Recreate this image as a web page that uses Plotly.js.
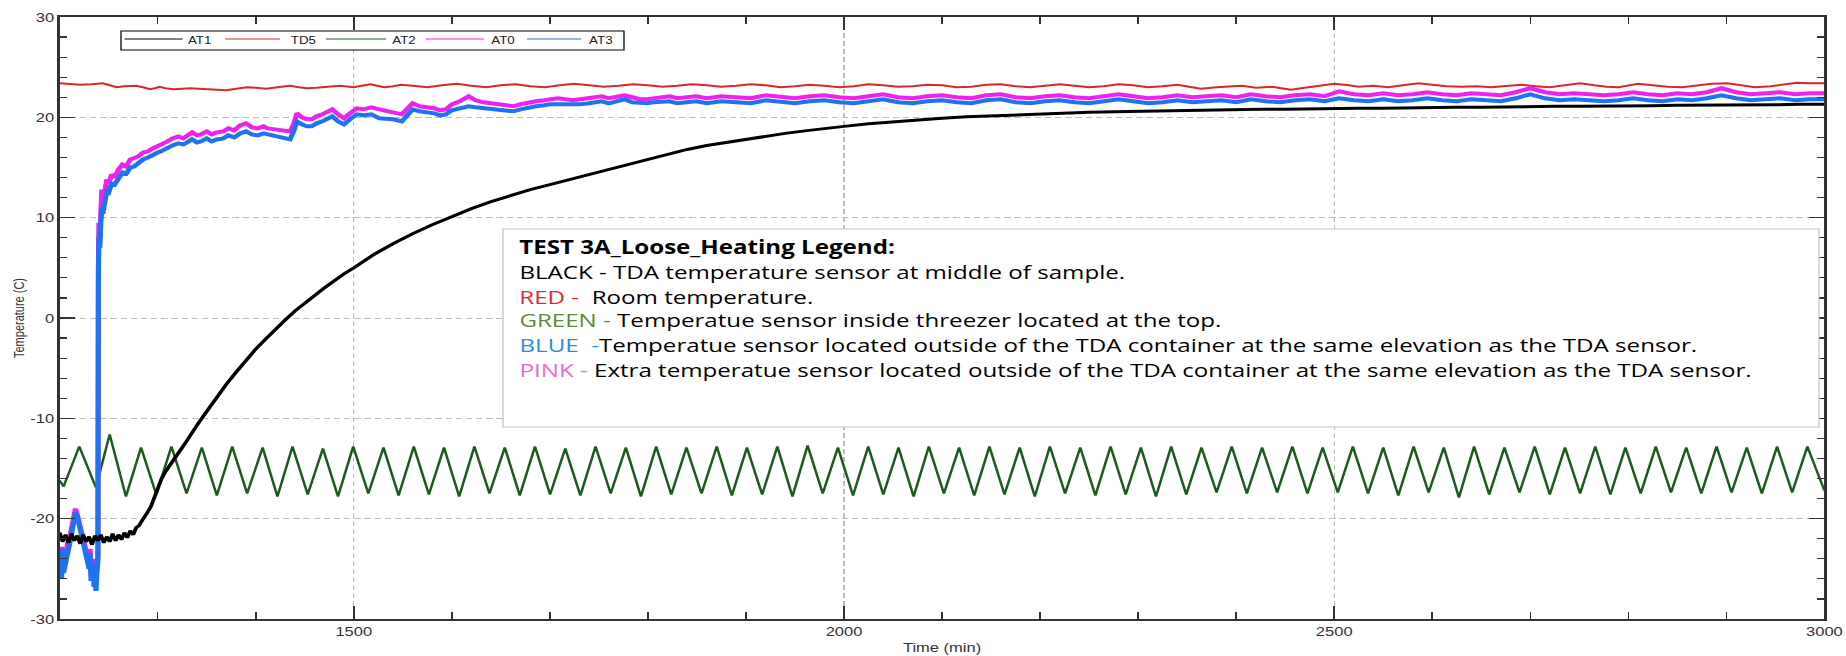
<!DOCTYPE html>
<html>
<head>
<meta charset="utf-8">
<script src="https://cdn.plot.ly/plotly-3.0.1.min.js"></script>
<style>
  html, body { margin: 0; padding: 0; background: #ffffff; }
  #wrap { width: 1846px; height: 656px; overflow: hidden; position: relative; }
  #plot { width: 1454px; height: 656px; transform: scale(1.26960, 1); transform-origin: 0 0; }
</style>
</head>
<body>
<div id="wrap"><div id="plot"></div></div>
<script>
// ---------------- DATA ----------------
const seriesNames = ['AT1', 'TD5', 'AT2', 'AT0', 'AT3'];
const seriesColors = ['#000000', '#d8282a', '#1d5a1d', '#f020f0', '#1f72f2'];

// AT1 (black) - TDA temperature sensor at middle of sample
const timeAT1 = [1200,1203,1206,1209,1212,1215,1218,1221,1224,1227,1230,1233,1236,1239,1242,1245,1248,1251,1254,1257,1260,1263,1266,1269,1272,1275,1278,1281,1284,1287,1290,1293,1296,1300,1304,1308,1312,1316,1320,1325,1330,1335,1340,1345,1350,1355,1360,1370,1380,1390,1400,1410,1420,1430,1440,1450,1460,1470,1480,1490,1500,1520,1540,1560,1580,1600,1620,1640,1660,1680,1700,1720,1740,1760,1780,1800,1820,1840,1860,1880,1900,1920,1940,1960,1980,2000,2025,2050,2075,2100,2125,2150,2175,2200,2225,2250,2275,2300,2325,2350,2375,2400,2425,2450,2475,2500,2525,2550,2575,2600,2625,2650,2675,2700,2725,2750,2775,2800,2825,2850,2875,2900,2925,2950,2975,3000];
const valAT1 = [-21.4,-22.3,-21.6,-22.4,-21.5,-22.2,-21.7,-22.5,-21.6,-22.3,-21.8,-22.6,-21.7,-22.2,-21.6,-22.4,-21.8,-22.3,-21.5,-22.2,-21.6,-22.1,-21.4,-21.9,-21.2,-21.6,-20.9,-20.7,-20.2,-19.8,-19.3,-18.8,-18.0,-17.0,-16.0,-15.3,-14.7,-14.1,-13.6,-12.9,-12.2,-11.4,-10.7,-10.0,-9.3,-8.6,-7.9,-6.6,-5.4,-4.2,-3.1,-2.1,-1.1,-0.2,0.7,1.5,2.3,3.0,3.7,4.4,5.0,6.3,7.4,8.4,9.3,10.1,10.9,11.6,12.2,12.8,13.3,13.8,14.3,14.8,15.3,15.8,16.3,16.8,17.2,17.5,17.85,18.15,18.4,18.65,18.9,19.1,19.35,19.55,19.75,19.9,20.05,20.15,20.25,20.35,20.45,20.5,20.55,20.6,20.65,20.7,20.7,20.75,20.8,20.8,20.85,20.85,20.9,20.9,20.95,20.95,21.0,21.0,21.05,21.05,21.1,21.1,21.1,21.15,21.15,21.2,21.2,21.2,21.25,21.25,21.3,21.3];

// TD5 (red) - room temperature
const timeTD5 = [1200,1210,1221,1232,1244,1251,1258,1266,1278,1285,1292,1297,1302,1308,1316,1325,1333,1342,1350,1360,1370,1380,1391,1400,1411,1422,1435,1444,1452,1462,1472,1480,1486,1493,1500,1508,1517,1524,1531,1540,1548,1560,1575,1590,1605,1620,1635,1650,1665,1680,1695,1710,1725,1740,1755,1770,1785,1800,1815,1830,1845,1860,1875,1890,1905,1920,1935,1950,1965,1980,1995,2010,2025,2040,2055,2070,2085,2100,2115,2130,2145,2160,2175,2190,2205,2220,2235,2250,2265,2280,2295,2310,2325,2340,2355,2364,2380,2395,2406,2420,2437,2446,2456,2470,2485,2500,2515,2525,2540,2555,2570,2586,2600,2615,2630,2645,2660,2675,2691,2705,2720,2735,2751,2765,2778,2790,2800,2810,2825,2840,2855,2870,2885,2901,2915,2929,2945,2960,2972,2985,3000];
const valTD5 = [23.4,23.35,23.25,23.3,23.4,23.2,23.0,23.1,23.15,23.0,22.8,22.9,23.05,22.9,22.8,22.85,22.9,22.85,22.8,22.75,22.7,22.85,23.0,22.95,22.85,23.0,23.15,23.0,22.9,22.95,23.0,23.1,23.15,23.05,23.0,23.15,23.3,23.15,23.0,23.1,23.25,23.15,23.0,23.2,23.35,23.15,23.0,23.2,23.3,23.1,23.0,23.2,23.35,23.2,23.05,23.15,23.3,23.2,23.05,23.15,23.3,23.2,23.05,23.15,23.3,23.2,23.0,23.1,23.25,23.15,23.0,23.1,23.3,23.2,23.05,23.1,23.25,23.2,23.0,23.05,23.25,23.3,23.1,23.0,23.15,23.3,23.15,23.0,23.1,23.3,23.2,23.0,23.1,23.25,23.0,22.85,23.0,23.1,23.15,22.95,23.05,22.9,22.75,22.95,23.15,23.35,23.2,23.05,23.15,23.0,23.2,23.4,23.25,23.1,23.05,23.1,23.0,23.15,23.25,23.1,23.0,23.2,23.4,23.2,23.05,23.0,23.2,23.35,23.2,23.05,23.0,23.2,23.35,23.4,23.2,23.0,23.1,23.3,23.45,23.4,23.4];

// AT2 (green) - sensor inside threezer at the top
const timeAT2 = [1200,1204,1220,1237,1251,1267.6,1283,1298.5,1314,1329.4,1345,1360.3,1376,1391.2,1407,1422.1,1437.5,1453,1468.5,1483.9,1499.4,1514.8,1530.3,1545.7,1561.2,1576.6,1592,1607.5,1623,1638.4,1654,1669.3,1684.8,1700.2,1715.7,1731.1,1746.6,1762,1777.5,1792.9,1808.4,1823.8,1839.3,1854.7,1870.2,1885.6,1901,1916.5,1932,1947.4,1962.9,1978.3,1993.8,2009.2,2024.7,2040.1,2055.6,2071,2086.5,2101.9,2117.4,2132.8,2148.3,2163.7,2179.2,2194.6,2210,2225.5,2241,2256.4,2271.9,2287.3,2302.8,2318.2,2333.7,2349.1,2364.6,2380,2395.5,2410.9,2426.4,2441.8,2457.3,2472.7,2488.2,2503.6,2519,2534.5,2550,2565.4,2581,2596.3,2611.8,2627.2,2642.7,2658.1,2673.6,2689,2704.5,2719.9,2735.4,2750.8,2766.3,2781.7,2797,2812.6,2828,2843.5,2859,2874.4,2890,2905.3,2920.8,2936.2,2951.7,2967.1,2982.6,3000];
const valAT2 = [-16.2,-16.8,-12.8,-16.9,-11.6,-17.8,-12.9,-17.6,-12.8,-17.5,-12.9,-17.7,-12.8,-17.5,-12.9,-17.8,-12.8,-17.6,-13.0,-17.8,-12.8,-17.5,-12.9,-17.7,-12.8,-17.6,-12.9,-17.8,-12.8,-17.5,-12.9,-17.7,-12.8,-17.6,-13.0,-17.7,-12.8,-17.5,-12.9,-17.8,-12.8,-17.6,-12.9,-17.5,-12.8,-17.7,-12.9,-17.6,-12.8,-17.8,-12.7,-17.5,-12.9,-17.7,-12.8,-17.6,-12.9,-17.8,-12.8,-17.5,-12.9,-17.7,-12.8,-17.6,-12.9,-17.8,-12.8,-17.5,-12.9,-17.7,-12.8,-17.6,-12.9,-17.8,-12.8,-17.6,-12.9,-17.4,-12.8,-17.5,-12.9,-17.4,-12.8,-17.5,-12.9,-17.4,-12.8,-17.5,-12.9,-17.7,-12.8,-17.4,-12.9,-17.9,-12.8,-17.6,-12.9,-17.4,-12.8,-17.6,-12.9,-17.5,-12.8,-17.6,-12.9,-17.5,-12.8,-17.4,-12.9,-17.5,-12.8,-17.4,-12.9,-17.5,-12.8,-17.4,-12.8,-17.2];

// AT0 (pink) and AT3 (blue) - sensors outside the TDA container
const timeAT0AT3 = [1200,1201,1202,1203,1204,1206,1208,1210,1212,1214,1216,1218,1220,1222,1224,1226,1228,1230,1231,1232,1234,1235,1236,1237,1238,1239,1239.5,1240,1241,1242,1243,1244,1246,1248,1250,1253,1256,1260,1264,1268,1272,1276,1280,1285,1290,1295,1300,1305,1310,1315,1321,1326,1330,1335,1340,1344,1350,1355,1360,1367,1372,1378,1384,1390,1396,1402,1408,1412,1420,1428,1435,1439,1442,1447,1452,1457,1462,1468,1473,1478,1484,1490,1496,1500,1503,1510,1518,1526,1533,1540,1549,1555,1560,1567,1575,1582,1588,1594,1600,1608,1617,1624,1632,1640,1648,1656,1663,1670,1678,1686,1694,1700,1708,1716,1724,1731,1740,1747,1753,1760,1768,1776,1784,1792,1799,1806,1814,1822,1830,1840,1849,1860,1875,1890,1905,1920,1935,1950,1965,1980,1995,2010,2025,2040,2055,2070,2085,2100,2115,2130,2145,2160,2175,2190,2205,2220,2235,2250,2265,2280,2295,2310,2325,2340,2355,2370,2385,2400,2415,2430,2445,2460,2475,2490,2505,2520,2535,2550,2565,2580,2595,2610,2625,2640,2655,2670,2685,2700,2715,2730,2745,2760,2775,2790,2805,2820,2835,2850,2865,2880,2895,2910,2925,2940,2955,2970,2985,3000];
const valAT0 = [-23.5,-25.5,-22.8,-25.0,-23.0,-24.0,-22.5,-22.0,-21.0,-20.0,-19.0,-19.6,-20.3,-21.2,-22.0,-22.8,-23.6,-24.5,-23.0,-25.5,-24.0,-26.0,-24.5,-26.5,-24.8,-23.8,5.0,9.5,8.0,10.5,12.8,11.2,12.5,13.8,13.4,14.3,14.0,14.8,15.3,15.1,15.8,15.9,16.1,16.5,16.6,16.9,17.1,17.3,17.6,17.9,18.1,17.9,18.2,18.5,18.2,18.3,18.6,18.3,18.5,18.6,18.9,18.7,19.2,19.4,19.0,18.9,19.1,18.9,18.8,18.7,18.6,19.4,20.4,20.0,19.8,19.8,20.1,20.3,20.5,20.8,20.3,19.9,20.4,20.7,20.9,20.8,21.0,20.8,20.6,20.5,20.3,20.9,21.4,21.1,21.0,20.9,20.7,20.8,21.3,21.6,22.1,21.7,21.5,21.4,21.3,21.1,21.1,21.3,21.5,21.6,21.7,21.8,21.9,21.8,21.7,21.8,21.9,22.0,22.1,21.9,22.1,22.2,22.0,21.8,21.8,21.9,22.0,22.1,21.9,22.0,22.1,21.9,22.1,22.0,21.9,22.2,22.0,21.9,22.1,22.2,22.0,21.9,22.1,22.3,22.0,21.9,22.1,22.2,22.0,21.9,22.2,22.3,22.0,21.9,22.1,22.2,22.0,21.9,22.1,22.3,22.1,21.9,22.0,22.2,22.0,22.1,22.2,22.0,22.3,22.1,22.0,22.2,22.3,22.1,22.6,22.3,22.2,22.4,22.2,22.3,22.5,22.3,22.2,22.4,22.3,22.2,22.5,22.9,22.5,22.3,22.4,22.3,22.2,22.3,22.5,22.3,22.2,22.4,22.3,22.5,22.9,22.5,22.3,22.4,22.5,22.3,22.4,22.4];
const valAT3 = [-25.8,-23.2,-26.0,-23.0,-25.4,-24.6,-23.3,-22.6,-21.6,-20.6,-19.4,-19.8,-20.6,-21.6,-22.4,-23.3,-24.2,-25.0,-23.4,-26.2,-24.4,-26.8,-25.0,-27.2,-25.4,-24.2,4.0,8.0,7.0,9.5,11.0,10.4,11.6,12.6,12.5,13.4,13.3,14.0,14.5,14.4,15.0,15.1,15.4,15.8,16.0,16.3,16.5,16.7,17.0,17.2,17.4,17.3,17.5,17.8,17.5,17.6,17.9,17.6,17.8,17.9,18.2,18.0,18.4,18.6,18.3,18.2,18.4,18.3,18.1,18.0,17.8,18.7,19.6,19.3,19.1,19.1,19.4,19.6,19.8,20.1,19.6,19.3,19.8,20.1,20.3,20.2,20.3,19.9,19.9,19.8,19.6,20.3,20.8,20.6,20.5,20.4,20.2,20.3,20.7,20.9,21.1,21.0,20.9,20.9,20.8,20.6,20.6,20.8,21.0,21.1,21.2,21.3,21.3,21.3,21.2,21.3,21.4,21.5,21.6,21.4,21.6,21.8,21.5,21.4,21.4,21.5,21.5,21.6,21.4,21.5,21.6,21.4,21.6,21.5,21.4,21.7,21.5,21.4,21.6,21.7,21.5,21.4,21.6,21.8,21.5,21.4,21.6,21.7,21.5,21.4,21.7,21.8,21.5,21.4,21.6,21.7,21.5,21.4,21.6,21.8,21.6,21.4,21.5,21.7,21.5,21.6,21.7,21.5,21.8,21.6,21.5,21.7,21.8,21.6,21.9,21.7,21.6,21.8,21.6,21.7,21.9,21.7,21.6,21.8,21.7,21.6,21.9,22.3,21.9,21.7,21.8,21.7,21.6,21.7,21.9,21.7,21.6,21.8,21.7,21.9,22.2,21.9,21.7,21.8,21.9,21.7,21.8,21.8];

// Axis ticks
const xTickVals = [1500, 2000, 2500, 3000];
const xTickText = ['1500', '2000', '2500', '3000'];
const yTickVals = [-30, -20, -10, 0, 10, 20, 30];
const yTickText = ['-30', '-20', '-10', '0', '10', '20', '30'];

// Text-box legend lines
const noteTitle = 'TEST 3A_Loose_Heating Legend:';
const noteLines = [
  ['BLACK - ', '#000000', 'TDA temperature sensor at middle of sample.'],
  ['RED -&nbsp; ', '#e8262b', 'Room temperature.'],
  ['GREEN - ', '#5b8a3c', 'Temperatue sensor inside threezer located at the top.'],
  ['BLUE&nbsp; -', '#2f8be0', 'Temperatue sensor located outside of the TDA container at the same elevation as the TDA sensor.'],
  ['PINK - ', '#e66ad2', 'Extra temperatue sensor located outside of the TDA container at the same elevation as the TDA sensor.']
];

// ---------------- LAYOUT GEOMETRY ----------------
const S = 1846 / 1454;          // horizontal stretch of the reference image
const ML = 47, MR = 17, MT = 17, MB = 37;
const PW = 1454 - ML - MR, PH = 656 - MT - MB;
const px = xf => (xf / S - ML) / PW;   // full-image pixel x -> paper
const py = yf => 1 - (yf - MT) / PH;   // pixel y -> paper

const traces = [
  {x: timeAT2, y: valAT2, name: seriesNames[2], mode: 'lines', line: {color: seriesColors[2], width: 2}},
  {x: timeTD5, y: valTD5, name: seriesNames[1], mode: 'lines', line: {color: seriesColors[1], width: 2}},
  {x: timeAT0AT3, y: valAT0, name: seriesNames[3], mode: 'lines', line: {color: seriesColors[3], width: 4}},
  {x: timeAT0AT3, y: valAT3, name: seriesNames[4], mode: 'lines', line: {color: seriesColors[4], width: 4}},
  {x: timeAT1, y: valAT1, name: seriesNames[0], mode: 'lines', line: {color: seriesColors[0], width: 3}}
];

const shapes = [];
const annotations = [];

// top legend box
shapes.push({type: 'rect', xref: 'paper', yref: 'paper', x0: px(121), x1: px(624), y0: py(31), y1: py(50),
  line: {color: '#000000', width: 1}, fillcolor: '#ffffff', layer: 'above'});
const legLine = [[124.5, 182.5, 200.5], [225, 280, 303], [326, 386, 404], [426, 484, 504], [527, 581, 601.5]];
const legOrder = [0, 1, 2, 3, 4];
legOrder.forEach((k, i) => {
  shapes.push({type: 'line', xref: 'paper', yref: 'paper', x0: px(legLine[i][0]), x1: px(legLine[i][1]),
    y0: py(39), y1: py(39), line: {color: seriesColors[k], width: 1}, layer: 'above'});
  annotations.push({xref: 'paper', yref: 'paper', x: px(legLine[i][2]), y: py(39.5), xanchor: 'center', yanchor: 'middle',
    text: seriesNames[k], showarrow: false, font: {family: 'Liberation Sans, Arial', size: 10.5, color: '#222222'}});
});

// note box
shapes.push({type: 'rect', xref: 'paper', yref: 'paper', x0: px(503), x1: px(1819), y0: py(229), y1: py(427),
  line: {color: '#c4c4c4', width: 1}, fillcolor: '#ffffff', layer: 'above'});
const noteY = [247, 272, 297, 320, 345, 370];
const noteFont = {family: 'Open Sans, Noto Sans, sans-serif', size: 19, color: '#000000'};
annotations.push({xref: 'paper', yref: 'paper', x: px(517), y: py(noteY[0]), xanchor: 'left', yanchor: 'middle',
  text: '<b>' + noteTitle + '</b>', showarrow: false, font: noteFont});
noteLines.forEach((ln, i) => {
  annotations.push({xref: 'paper', yref: 'paper', x: px(517), y: py(noteY[i + 1]), xanchor: 'left', yanchor: 'middle',
    text: '<span style="color:' + ln[1] + '">' + ln[0] + '</span>' + ln[2], showarrow: false, font: noteFont});
});

const axisFont = {family: 'Liberation Sans, Arial', size: 13, color: '#333333'};
const layout = {
  width: 1454, height: 656,
  margin: {l: ML, r: MR, t: MT, b: MB, pad: 0},
  paper_bgcolor: '#ffffff', plot_bgcolor: '#ffffff',
  showlegend: false,
  xaxis: {
    range: [1200, 3000], tickmode: 'array', tickvals: xTickVals, ticktext: xTickText,
    ticks: 'inside', ticklen: 13, tickwidth: 1.4, tickcolor: '#333333',
    showline: true, linecolor: '#333333', linewidth: 1.8, mirror: 'ticks',
    showgrid: true, gridcolor: '#bdbdbd', gridwidth: 1, griddash: '5px,3px', zeroline: false,
    minor: {tickmode: 'linear', tick0: 1200, dtick: 100, ticks: 'inside', ticklen: 7, tickwidth: 1.2, tickcolor: '#333333', showgrid: false},
    tickfont: axisFont,
    title: {text: 'Time (min)', font: {family: 'Liberation Sans, Arial', size: 13, color: '#333333'}, standoff: 4},
    automargin: false
  },
  yaxis: {
    range: [-30, 30], tickmode: 'array', tickvals: yTickVals, ticktext: yTickText,
    ticks: 'inside', ticklen: 12, tickwidth: 1.4, tickcolor: '#333333',
    showline: true, linecolor: '#333333', linewidth: 1.8, mirror: 'ticks',
    showgrid: true, gridcolor: '#bdbdbd', gridwidth: 1, griddash: '5px,3px', zeroline: false,
    minor: {tickmode: 'linear', tick0: -30, dtick: 2, ticks: 'inside', ticklen: 5.5, tickwidth: 1.2, tickcolor: '#333333', showgrid: false},
    tickfont: axisFont,
    title: {text: 'Temperature (C)', font: {family: 'Liberation Sans, Arial', size: 11, color: '#333333'}, standoff: 2},
    automargin: false
  },
  shapes: shapes,
  annotations: annotations
};

Plotly.newPlot('plot', traces, layout, {displayModeBar: false, staticPlot: true});
</script>
</body>
</html>
